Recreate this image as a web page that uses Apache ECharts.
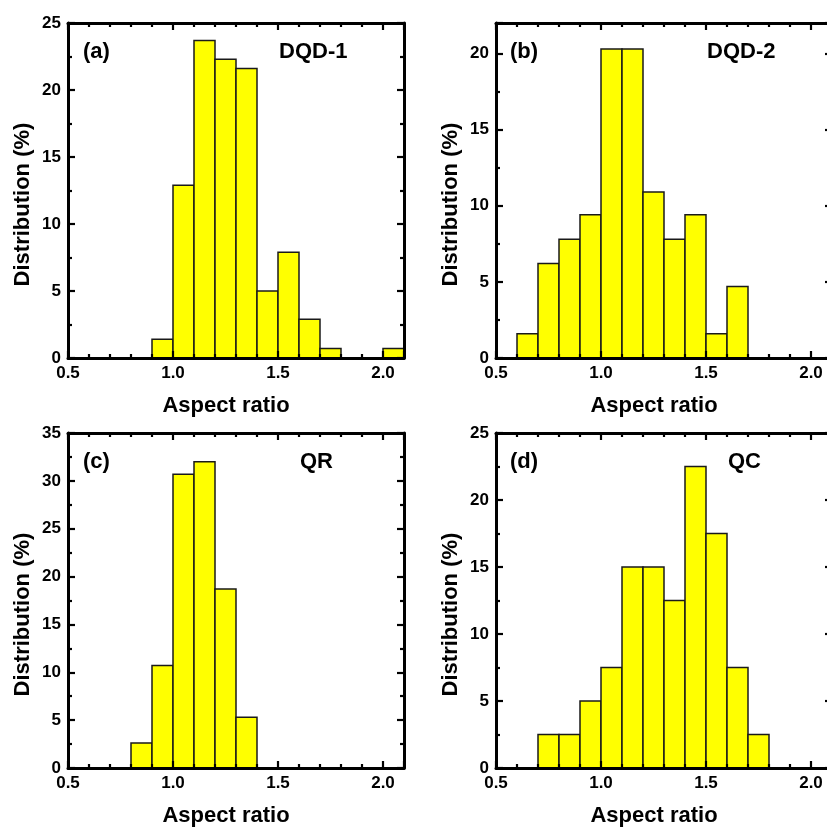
<!DOCTYPE html>
<html><head><meta charset="utf-8">
<script src="https://cdn.jsdelivr.net/npm/echarts@6/dist/echarts.min.js"></script>
<style>html,body{margin:0;padding:0;background:#fff;overflow:hidden;width:827px;height:828px}#c{width:836px;height:828px}</style>
</head><body><div id="c"></div>
<script>
// ---- data ----
const binWidth = 0.1;
const binsA = [0.9, 1.0, 1.1, 1.2, 1.3, 1.4, 1.5, 1.6, 1.7, 1.8, 1.9, 2.0];
const valsA = [1.4, 12.9, 23.7, 22.3, 21.6, 5.0, 7.9, 2.9, 0.7, 0, 0, 0.7];
const binsB = [0.6, 0.7, 0.8, 0.9, 1.0, 1.1, 1.2, 1.3, 1.4, 1.5, 1.6];
const valsB = [1.6, 6.2, 7.8, 9.4, 20.3, 20.3, 10.9, 7.8, 9.4, 1.6, 4.7];
const binsC = [0.8, 0.9, 1.0, 1.1, 1.2, 1.3];
const valsC = [2.6, 10.7, 30.7, 32.0, 18.7, 5.3];
const binsD = [0.7, 0.8, 0.9, 1.0, 1.1, 1.2, 1.3, 1.4, 1.5, 1.6, 1.7];
const valsD = [2.5, 2.5, 5.0, 7.5, 15.0, 15.0, 12.5, 22.5, 17.5, 7.5, 2.5];
const xTickLabels = [0.5, 1.0, 1.5, 2.0];
const xMin = 0.5, xMax = 2.1;
const yMaxes = [25, 22, 35, 25];
const panelLabels = ['(a)', '(b)', '(c)', '(d)'];
const sampleNames = ['DQD-1', 'DQD-2', 'QR', 'QC'];
const xTitle = 'Aspect ratio';
const yTitle = 'Distribution (%)';

// ---- layout / style ----
const FONT = 'Liberation Sans, Arial, Helvetica, sans-serif';
const grids = [
  {left: 68, top: 23, width: 336, height: 335},
  {left: 496, top: 23, width: 336, height: 335},
  {left: 68, top: 433, width: 336, height: 335},
  {left: 496, top: 433, width: 336, height: 335}
];
const panelPos = [
  {lx: 83, nx: 279, y: 52},
  {lx: 510, nx: 707, y: 52},
  {lx: 83, nx: 300, y: 462},
  {lx: 510, nx: 728, y: 462}
];
const panels = [[binsA, valsA], [binsB, valsB], [binsC, valsC], [binsD, valsD]];

const lineS = {color: '#000', width: 3};
const tickS = {color: '#000', width: 2.2};
const labelS = {color: '#000', fontFamily: FONT, fontWeight: 'bold', fontSize: 17};
const titleS = {color: '#000', fontFamily: FONT, fontWeight: 'bold', fontSize: 22};

const xAxes = [], yAxes = [], series = [], graphics = [];
grids.forEach((g, i) => {
  ['bottom', 'top'].forEach(pos => {
    const main = pos === 'bottom';
    xAxes.push({
      type: 'value', gridIndex: i, position: pos, min: xMin, max: xMax, interval: 0.5, z: 10,
      axisLine: {onZero: false, lineStyle: lineS},
      axisTick: {inside: true, length: 7, lineStyle: tickS},
      minorTick: {show: true, splitNumber: 5, length: 4, lineStyle: tickS},
      splitLine: {show: false}, minorSplitLine: {show: false},
      axisLabel: main ? Object.assign({show: true, margin: 7, showMinLabel: true, showMaxLabel: true,
        formatter: v => xTickLabels.some(t => Math.abs(t - v) < 1e-6) ? v.toFixed(1) : ''}, labelS) : {show: false},
      name: main ? xTitle : '', nameLocation: 'middle', nameGap: 37,
      nameTextStyle: Object.assign({padding: [0, 20, 0, 0]}, titleS)
    });
  });
  ['left', 'right'].forEach(pos => {
    const main = pos === 'left';
    yAxes.push({
      type: 'value', gridIndex: i, position: pos, min: 0, max: yMaxes[i], interval: 5, z: 10,
      axisLine: {onZero: false, lineStyle: lineS},
      axisTick: {inside: true, length: 7, lineStyle: tickS},
      minorTick: {show: true, splitNumber: 2, length: 4, lineStyle: tickS},
      splitLine: {show: false}, minorSplitLine: {show: false},
      axisLabel: main ? Object.assign({show: true, margin: 7, showMaxLabel: true,
        formatter: v => (Math.abs(v % 5) < 1e-6 ? String(v) : '')}, labelS) : {show: false},
      name: main ? yTitle : '', nameLocation: 'middle', nameGap: 34,
      nameTextStyle: Object.assign({padding: [0, 28, 0, 0]}, titleS)
    });
  });
  const [bins, vals] = panels[i];
  series.push({
    type: 'custom', xAxisIndex: i * 2, yAxisIndex: i * 2, z: 2,
    data: bins.map((b, k) => [b, vals[k]]),
    encode: {x: 0, y: 1},
    renderItem: (params, api) => {
      const x0 = api.value(0), h = api.value(1);
      if (!h) return null;
      const p0 = api.coord([x0, 0]);
      const p1 = api.coord([x0 + binWidth, h]);
      return {type: 'rect',
        shape: {x: p0[0], y: p1[1], width: p1[0] - p0[0], height: p0[1] - p1[1]},
        style: {fill: '#ffff00', stroke: '#1a1a1a', lineWidth: 1.5}};
    }
  });
  const pp = panelPos[i];
  graphics.push({type: 'text', x: pp.lx, y: pp.y, z: 20,
    style: {text: panelLabels[i], font: 'bold 22px ' + FONT, fill: '#000', verticalAlign: 'middle'}});
  graphics.push({type: 'text', x: pp.nx, y: pp.y, z: 20,
    style: {text: sampleNames[i], font: 'bold 22px ' + FONT, fill: '#000', verticalAlign: 'middle'}});
});

const chart = echarts.init(document.getElementById('c'), null, {renderer: 'canvas'});
chart.setOption({
  animation: false,
  backgroundColor: '#fff',
  grid: grids.map(g => Object.assign({containLabel: false}, g)),
  xAxis: xAxes,
  yAxis: yAxes,
  series: series,
  graphic: graphics
});
</script></body></html>
